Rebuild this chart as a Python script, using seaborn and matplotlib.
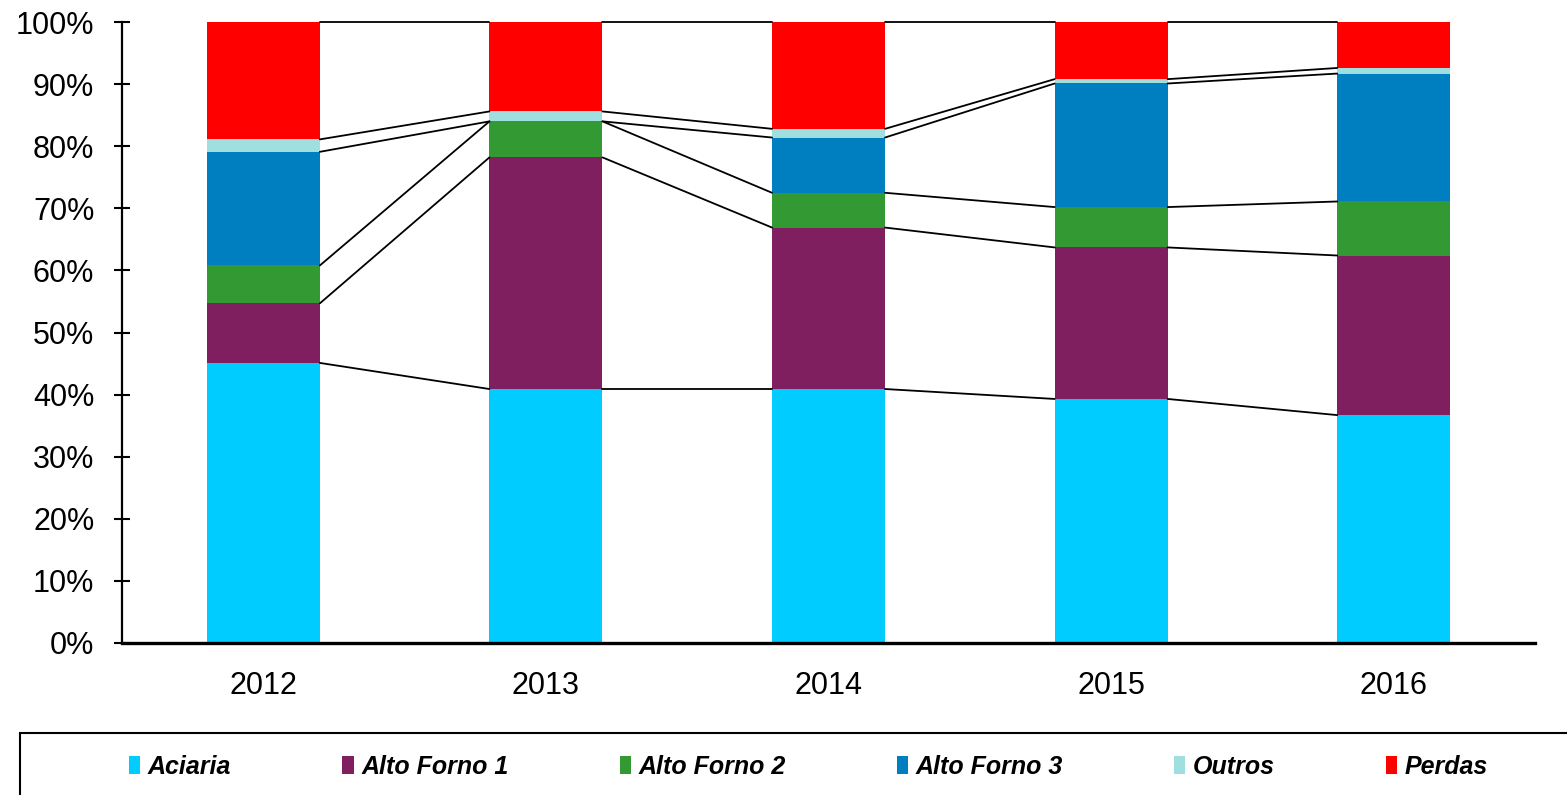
import numpy as np
import pandas as pd
import matplotlib
matplotlib.use("Agg")
import matplotlib.pyplot as plt
from matplotlib.patches import Patch, Rectangle
from matplotlib.ticker import FuncFormatter, FixedLocator
import seaborn as sns

years = ['2012', '2013', '2014', '2015', '2016']
series = ['Aciaria', 'Alto Forno 1', 'Alto Forno 2', 'Alto Forno 3', 'Outros', 'Perdas']
colors = ['#00CCFF', '#7F1F5F', '#339933', '#007FC0', '#A0DFE0', '#FF0000']

# shares in % per year
aciaria = [45.1, 40.9, 40.9, 39.3, 36.7]
alto_forno_1 = [9.6, 37.3, 26.0, 24.4, 25.7]
alto_forno_2 = [6.1, 5.8, 5.6, 6.5, 8.7]
alto_forno_3 = [18.3, 0.0, 8.9, 19.9, 20.6]
outros = [2.0, 1.6, 1.4, 0.7, 0.9]
perdas = [18.9, 14.4, 17.2, 9.2, 7.4]

df = pd.DataFrame({'Ano': years, 'Aciaria': aciaria, 'Alto Forno 1': alto_forno_1,
                   'Alto Forno 2': alto_forno_2, 'Alto Forno 3': alto_forno_3,
                   'Outros': outros, 'Perdas': perdas})
cum = df[series].cumsum(axis=1)

sns.set_style('white')
plt.rcParams['font.family'] = ['Liberation Sans', 'DejaVu Sans']
plt.rcParams['text.color'] = 'black'
plt.rcParams['xtick.color'] = 'black'
plt.rcParams['ytick.color'] = 'black'

fig = plt.figure(figsize=(15.67, 7.95), dpi=100)
ax = fig.add_axes([0.0779, 0.1912, 0.9017, 0.7811])

bar_w = 0.4
# draw cumulative layers from the top down so each one covers the next
for name, col in reversed(list(zip(series, colors))):
    sns.barplot(x=df['Ano'], y=cum[name], color=col, saturation=1, width=bar_w,
                linewidth=0, ax=ax)

# series lines between bars
levels = [cum[s].values for s in series]
for lev in levels:
    for i in range(len(years) - 1):
        ax.plot([i + bar_w / 2, i + 1 - bar_w / 2], [lev[i], lev[i + 1]],
                color='black', lw=1.3, clip_on=False, zorder=3)

ax.set_xlim(-0.5, len(years) - 0.5)
ax.set_ylim(0, 100)
ax.set_yticks(np.arange(0, 101, 10))
ax.yaxis.set_major_formatter(FuncFormatter(lambda v, p: f'{v:.0f}%'))
ax.set_xlabel('')
ax.set_ylabel('')

ax.xaxis.set_minor_locator(FixedLocator(np.arange(-0.5, len(years), 1.0)))
ax.tick_params(axis='x', which='major', length=0, pad=20, labelsize=22, labelcolor='black')
ax.tick_params(axis='x', which='minor', direction='inout', length=13, width=1.3, color='black')
ax.tick_params(axis='y', direction='inout', length=12, width=1.5, color='black',
               pad=14, labelsize=22, left=True, labelcolor='black')

sns.despine(ax=ax, top=True, right=True)
ax.spines['left'].set_linewidth(1.6)
ax.spines['left'].set_color('black')
ax.spines['bottom'].set_linewidth(2.4)
ax.spines['bottom'].set_color('black')

# legend box at the bottom
fig.patches.append(Rectangle((20 / 1567, -0.2), 1.2, 0.2 + 1 - 733 / 795,
                             transform=fig.transFigure, fill=False,
                             edgecolor='black', lw=1.5, clip_on=False))
handles = [Patch(facecolor=c, edgecolor='none', label=s) for s, c in zip(series, colors)]
fig.legend(handles=handles, loc='center', bbox_to_anchor=(0.516, 0.0352), ncol=6,
           frameon=False, handlelength=0.45, handleheight=0.75, handletextpad=0.3,
           columnspacing=4.45, labelcolor='black',
           prop={'family': 'Liberation Sans', 'weight': 'bold',
                 'style': 'italic', 'size': 18})

fig.savefig('out.png', dpi=100)
